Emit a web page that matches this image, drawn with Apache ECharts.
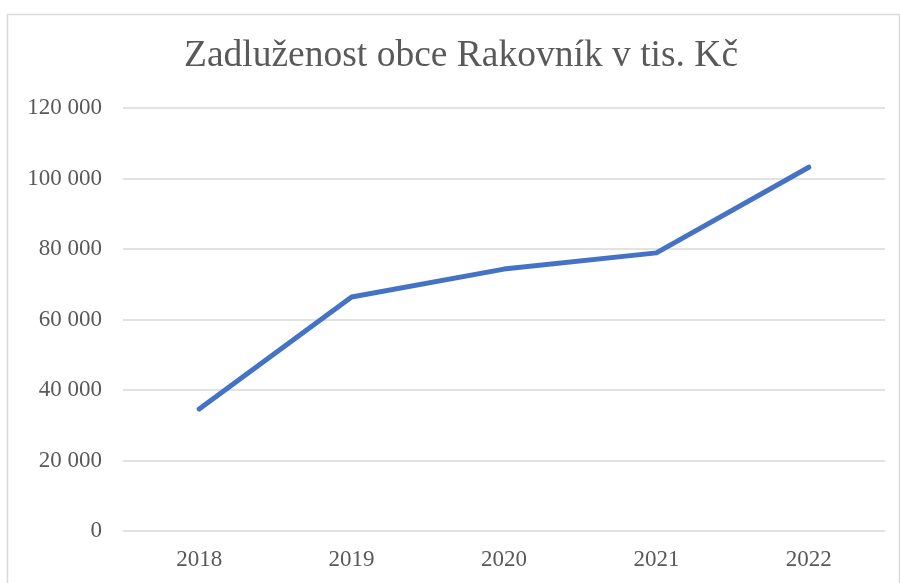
<!DOCTYPE html>
<html>
<head>
<meta charset="utf-8">
<script src="https://cdn.jsdelivr.net/npm/echarts@6/dist/echarts.min.js"></script>
<style>
  html, body { margin: 0; padding: 0; background: #fff; }
  #chart { width: 900px; height: 583px; }
</style>
</head>
<body>
<div id="chart"></div>
<script>
var years = ['2018', '2019', '2020', '2021', '2022'];
var debt = [34600, 66400, 74300, 78900, 103200];
var yTicks = [0, 20000, 40000, 60000, 80000, 100000, 120000];

var myChart = echarts.init(document.getElementById('chart'));
var font = '"Liberation Serif", "Times New Roman", serif';

var option = {
  backgroundColor: '#fff',
  animation: false,
  title: {
    text: 'Zadluženost obce Rakovník v tis. Kč',
    left: 179,
    top: 32,
    textStyle: {
      fontFamily: font,
      fontSize: 37.5,
      fontWeight: 'normal',
      color: '#595959'
    }
  },
  graphic: [{
    type: 'rect',
    shape: { x: 7.5, y: 14.5, width: 892, height: 600 },
    style: { fill: 'none', stroke: '#d9d9d9', lineWidth: 1.5 },
    silent: true
  }],
  grid: { left: 123, right: 15, top: 108, bottom: 52 },
  xAxis: {
    type: 'category',
    data: years,
    boundaryGap: true,
    axisLine: { show: false },
    axisTick: { show: false },
    axisLabel: {
      margin: 17,
      fontFamily: font,
      fontSize: 23,
      color: '#595959'
    }
  },
  yAxis: {
    type: 'value',
    min: yTicks[0],
    max: yTicks[yTicks.length - 1],
    interval: 20000,
    axisLine: { show: false },
    axisTick: { show: false },
    splitLine: { lineStyle: { color: '#d9d9d9', width: 1.5 } },
    axisLabel: {
      margin: 21,
      fontFamily: font,
      fontSize: 23,
      color: '#595959',
      formatter: function (v) {
        return String(v).replace(/\B(?=(\d{3})+(?!\d))/g, ' ');
      }
    }
  },
  series: [{
    type: 'line',
    data: debt,
    symbol: 'none',
    lineStyle: { color: '#4472c4', width: 5, cap: 'round', join: 'round' }
  }]
};

myChart.setOption(option);
window.addEventListener('resize', function () {
  myChart.resize();
});
</script>
</body>
</html>
